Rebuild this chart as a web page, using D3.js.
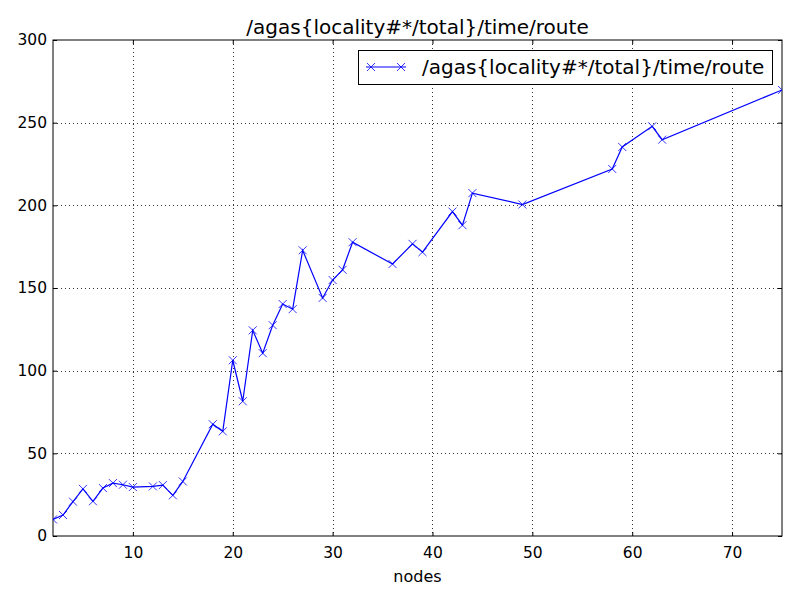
<!DOCTYPE html>
<html><head><meta charset="utf-8">
<script src="https://cdn.jsdelivr.net/npm/d3@7"></script>
<style>body{margin:0;background:#fff;}svg{display:block;font-family:"DejaVu Sans",sans-serif;}</style>
</head><body>
<svg id="c" width="800" height="600"></svg>
<script>
const nodes = [2,3,4,5,6,7,8,9,10,12,13,14,15,18,19,20,21,22,23,24,25,26,27,29,30,31,32,36,38,39,42,43,44,49,58,59,62,63,75];
const routeTime = [10,12.7,20.8,28.5,21,29,32,31,29.6,30,30.8,24.6,33,67.6,63.3,106.3,81.5,124.4,110.6,127.5,140.3,137.2,172.8,144,154.8,161,177.7,164.5,176.7,171.7,196.2,188,207.4,200.5,222,235.3,247.8,239.7,269.8];
const xTicks = [10,20,30,40,50,60,70];
const yTicks = [0,50,100,150,200,250,300];
const title = "/agas{locality#*/total}/time/route";
const xLabel = "nodes";

const svg = d3.select("#c");
const L=53, R=782, T=40, B=536;
const x = d3.scaleLinear().domain([2,75]).range([L,R]);
const y = d3.scaleLinear().domain([0,300]).range([B,T]);

// grid
const g = svg.append("g");
g.selectAll(".gx").data(xTicks).enter().append("line")
  .attr("x1",d=>Math.round(x(d))+0.5).attr("x2",d=>Math.round(x(d))+0.5)
  .attr("y1",T).attr("y2",B).attr("stroke","#000").attr("stroke-width",0.8).attr("stroke-dasharray","1,3");
g.selectAll(".gy").data(yTicks.filter(d=>d>0&&d<300)).enter().append("line")
  .attr("y1",d=>Math.round(y(d))+0.5).attr("y2",d=>Math.round(y(d))+0.5)
  .attr("x1",L).attr("x2",R).attr("stroke","#000").attr("stroke-width",0.8).attr("stroke-dasharray","1,3");

// axes with inward ticks
const xAxis = d3.axisBottom(x).tickValues(xTicks).tickSizeInner(-4).tickSizeOuter(0).tickPadding(11);
svg.append("g").attr("transform",`translate(0,${B})`).call(xAxis);
const xAxisTop = d3.axisTop(x).tickValues(xTicks).tickSizeInner(-4).tickSizeOuter(0).tickFormat("");
svg.append("g").attr("transform",`translate(0,${T})`).call(xAxisTop);
const yAxis = d3.axisLeft(y).tickValues(yTicks).tickSizeInner(-4).tickSizeOuter(0).tickPadding(6);
svg.append("g").attr("transform",`translate(${L},0)`).call(yAxis);
const yAxisR = d3.axisRight(y).tickValues(yTicks).tickSizeInner(-4).tickSizeOuter(0).tickFormat("");
svg.append("g").attr("transform",`translate(${R},0)`).call(yAxisR);
svg.selectAll(".domain").remove();
svg.selectAll(".tick text").attr("font-size",15.5).attr("font-family","DejaVu Sans").attr("fill","#000");
svg.selectAll(".tick line").attr("stroke","#000");

// frame
svg.append("rect").attr("x",L).attr("y",T).attr("width",R-L).attr("height",B-T)
  .attr("fill","none").attr("stroke","#000").attr("stroke-width",1);

// line
const line = d3.line().x((d,i)=>x(nodes[i])).y(d=>y(d));
svg.append("clipPath").attr("id","cp").append("rect").attr("x",L).attr("y",T).attr("width",R-L).attr("height",B-T);
const plot = svg.append("g").attr("clip-path","url(#cp)");
plot.append("path").datum(routeTime).attr("d",line).attr("fill","none").attr("stroke","#0000ff").attr("stroke-width",1.2);
const m=4;
const cross = (cx,cy)=>`M${cx-m},${cy-m}L${cx+m},${cy+m}M${cx-m},${cy+m}L${cx+m},${cy-m}`;
plot.selectAll(".mk").data(routeTime).enter().append("path")
  .attr("d",(d,i)=>cross(x(nodes[i]),y(d))).attr("stroke","#0000ff").attr("stroke-width",0.8).attr("fill","none");

// title & label
svg.append("text").attr("x",(L+R)/2).attr("y",34).attr("text-anchor","middle").attr("font-size",20).text(title);
svg.append("text").attr("x",(L+R)/2).attr("y",582).attr("text-anchor","middle").attr("font-size",16).text(xLabel);

// legend
const lg = svg.append("g");
lg.append("rect").attr("x",358.5).attr("y",50.5).attr("width",414).attr("height",34).attr("fill","#fff").attr("stroke","#000").attr("stroke-width",1);
lg.append("line").attr("x1",366).attr("x2",406).attr("y1",67).attr("y2",67).attr("stroke","#0000ff").attr("stroke-width",1.2);
lg.append("path").attr("d",cross(371,67)+cross(401,67)).attr("stroke","#0000ff").attr("stroke-width",0.8);
lg.append("text").attr("x",422).attr("y",74).attr("font-size",20).text(title);
</script>
</body></html>
